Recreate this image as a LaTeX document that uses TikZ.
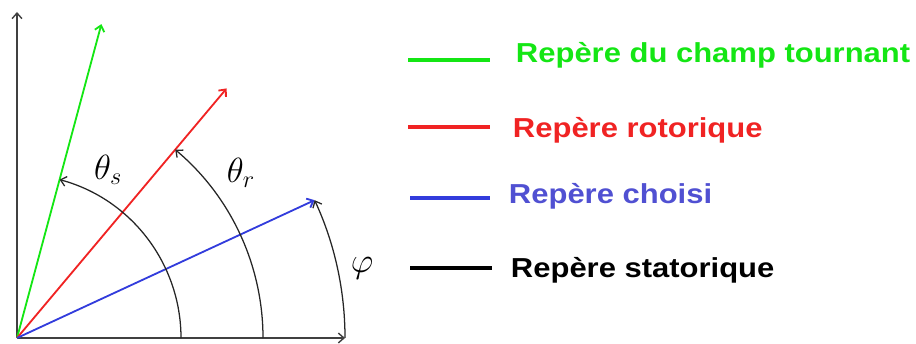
\documentclass[tikz,border=0pt]{standalone}
\usepackage{fontspec}
\setsansfont{Liberation Sans}
\usetikzlibrary{arrows.meta, positioning}

\definecolor{vert}{RGB}{20,230,20}
\definecolor{rouge}{RGB}{240,35,35}
\definecolor{bleu}{RGB}{50,60,220}
\definecolor{bleutexte}{RGB}{80,80,210}

\newcommand{\etire}[1]{\scalebox{1.13}[1]{#1}}

\begin{document}
\begin{tikzpicture}[
    x=0.025cm, y=0.025cm,
    axe/.style      = {-{Straight Barb[length=4pt,width=7pt]}, line width=1pt, black!75},
    vecteur/.style  = {-{Straight Barb[length=4pt,width=7pt]}, line width=1.3pt},
    arcangle/.style = {-{Straight Barb[length=4pt,width=7pt]}, line width=0.9pt, black!85},
    angle/.style    = {font=\fontsize{26}{28}\selectfont},
    trait/.style    = {line width=3.4pt},
    legende/.style  = {anchor=west, font=\sffamily\bfseries\fontsize{19.5}{22}\selectfont},
]
\useasboundingbox (-17,-5) rectangle (899,338);

% Axes du repere statorique
\coordinate (O) at (0,0);
\coordinate (yh) at (0,326);
\coordinate (xd) at (328,0);
\draw[axe] (O) -- (yh);
\draw[axe] (O) -- (xd);

% Reperes tournants
\coordinate (g) at (74.95:325);
\coordinate (r) at (49.97:326);
\coordinate (b) at (24.85:328);
\draw[vecteur, vert]  (O) -- (g);
\draw[vecteur, rouge] (O) -- (r);
\draw[vecteur, bleu]  (O) -- (b);

% Angles
\coordinate (as) at (164,0);
\coordinate (ar) at (246,0);
\coordinate (ap) at (328,0);
\draw[arcangle] (as) arc[start angle=0, end angle=74.95, radius=164];
\draw[arcangle] (ar) arc[start angle=0, end angle=49.97, radius=246];
\draw[arcangle] (ap) arc[start angle=0, end angle=24.85, radius=328];
\node[angle] (ts) at (91,168) {$\theta_s$};
\node[angle] (tr) at (224,165) {$\theta_r$};
\node[angle] (phi) at (345,70) {$\varphi$};

% Legende
\draw[trait, vert]  (391,278) coordinate (l1a) -- (473,278) coordinate (l1b);
\draw[trait, rouge] (391,211) coordinate (l2a) -- (473,211) coordinate (l2b);
\draw[trait, bleu]  (393,140) coordinate (l3a) -- (473,140) coordinate (l3b);
\draw[trait, black] (393,70) coordinate (l4a) -- (475,70) coordinate (l4b);
\node[legende, text=vert]      (t1) at (494,283) {\etire{Repère du champ tournant}};
\node[legende, text=rouge]     (t2) at (491,208) {\etire{Repère rotorique}};
\node[legende, text=bleutexte] (t3) at (487,142) {\etire{Repère choisi}};
\node[legende, text=black]     (t4) at (489,68)  {\etire{Repère statorique}};

\end{tikzpicture}
\end{document}
